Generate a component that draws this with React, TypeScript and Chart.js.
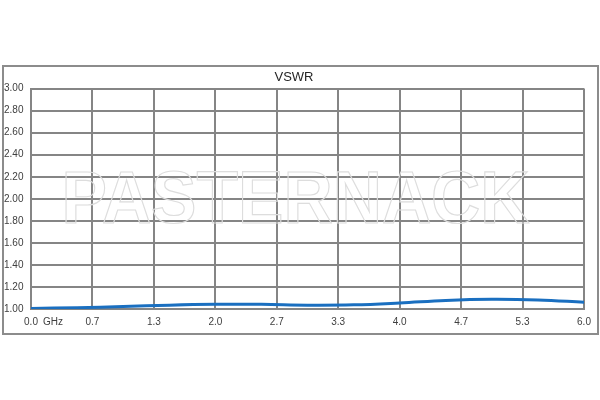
import React, { useEffect, useRef } from "react";
import { Chart, registerables } from "chart.js";

Chart.register(...registerables);

const freqGHz = [0.0, 0.5, 1.0, 1.5, 2.0, 2.5, 3.0, 3.5, 4.0, 4.5, 5.0, 5.5, 6.0];
const vswr = [1.005, 1.012, 1.022, 1.035, 1.042, 1.042, 1.035, 1.038, 1.055, 1.078, 1.088, 1.082, 1.062];
const xTickLabels = ["0.0", "0.7", "1.3", "2.0", "2.7", "3.3", "4.0", "4.7", "5.3", "6.0"];
const xUnit = "GHz";
const yMin = 1.0;
const yMax = 3.0;
const yStep = 0.2;
const titleText = "VSWR";
const watermarkText = "PASTERNACK";

const FONT = "'Liberation Sans', Arial, sans-serif";

const decorPlugin = {
  id: "decor",
  beforeDatasetsDraw(chart: any) {
    const { ctx, chartArea } = chart;
    ctx.save();
    ctx.font = `bold 74px ${FONT}`;
    ctx.textAlign = "center";
    ctx.textBaseline = "alphabetic";
    ctx.strokeStyle = "#dddddd";
    ctx.lineWidth = 1.2;
    const cx = (chartArea.left + chartArea.right) / 2 - 12;
    ctx.strokeText(watermarkText, cx, 223, 468);
    ctx.restore();
  },
  afterDraw(chart: any) {
    const { ctx } = chart;
    ctx.save();
    ctx.strokeStyle = "#8c8c8c";
    ctx.lineWidth = 2;
    ctx.strokeRect(3, 66, 595, 268);
    const xs = chart.scales.x;
    const px = xs.getPixelForValue(0);
    ctx.font = `10px ${FONT}`;
    ctx.fillStyle = "#404040";
    ctx.textAlign = "left";
    ctx.textBaseline = "middle";
    ctx.fillText(xUnit, px + 12, 322);
    ctx.restore();
  },
};

export default function App() {
  const ref = useRef<HTMLCanvasElement>(null);
  useEffect(() => {
    if (!ref.current) return;
    const chart = new Chart(ref.current, {
      type: "line",
      data: {
        datasets: [
          {
            data: freqGHz.map((f, i) => ({ x: f, y: vswr[i] })),
            borderColor: "#1a6fc0",
            borderWidth: 3,
            pointRadius: 0,
            tension: 0.4,
            fill: false,
          },
        ],
      },
      options: {
        responsive: false,
        animation: false,
        events: [],
        layout: { padding: { left: 4, right: 16, top: 0, bottom: 66 } },
        plugins: {
          legend: { display: false },
          tooltip: { enabled: false },
          title: {
            display: true,
            text: titleText,
            color: "#262626",
            font: { family: FONT, size: 13, weight: "normal" },
            padding: { top: 70, bottom: 3 },
          },
        },
        scales: {
          x: {
            type: "linear",
            min: 0,
            max: 6,
            afterBuildTicks: (scale: any) => {
              scale.ticks = xTickLabels.map((_, i) => ({ value: (i * 6) / (xTickLabels.length - 1) }));
            },
            afterFit: (scale: any) => {
              scale.height = 25;
            },
            ticks: {
              autoSkip: false,
              maxRotation: 0,
              padding: 7,
              color: "#404040",
              font: { family: FONT, size: 10 },
              callback: (_v: any, i: number) => xTickLabels[i],
            },
            grid: { color: "#858585", lineWidth: 2, drawTicks: false },
            border: { display: true, color: "#858585", width: 2 },
          },
          y: {
            min: yMin,
            max: yMax,
            afterFit: (scale: any) => {
              scale.width = 27;
            },
            ticks: {
              stepSize: yStep,
              crossAlign: "far",
              color: "#404040",
              font: { family: FONT, size: 10 },
              callback: (v: any) => Number(v).toFixed(2),
            },
            grid: { color: "#858585", lineWidth: 2, drawTicks: false },
            border: { display: true, color: "#858585", width: 2 },
          },
        },
      },
      plugins: [decorPlugin],
    } as any);
    return () => chart.destroy();
  }, []);
  return (
    <div style={{ position: "absolute", left: 0, top: 0, width: 600, height: 400, background: "#fff" }}>
      <canvas ref={ref} width={600} height={400} />
    </div>
  );
}
